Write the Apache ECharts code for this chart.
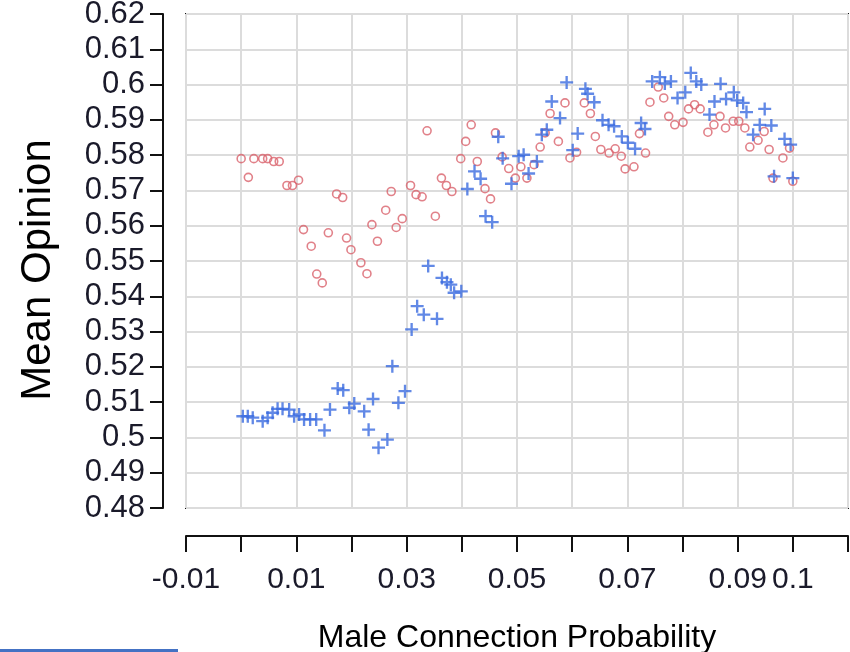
<!DOCTYPE html>
<html>
<head>
<meta charset="utf-8">
<script src="https://cdn.jsdelivr.net/npm/echarts@6.0.0/dist/echarts.min.js"></script>
<style>
html,body{margin:0;padding:0;background:#fff;}
#chart{width:850px;height:652px;}
</style>
</head>
<body>
<div id="chart"></div>
<script>
// ---- data ----
const redX = [0.0000,0.0013,0.0023,0.0039,0.0048,0.0059,0.0069,0.0083,0.0093,0.0104,0.0113,0.0127,0.0137,0.0147,0.0158,0.0173,0.0184,0.0191,0.0199,0.0217,0.0228,0.0237,0.0247,0.0262,0.0272,0.0281,0.0292,0.0307,0.0317,0.0328,0.0337,0.0352,0.0363,0.0372,0.0382,0.0398,0.0407,0.0417,0.0428,0.0442,0.0452,0.0461,0.0473,0.0485,0.0497,0.0507,0.0518,0.0531,0.0542,0.0551,0.0560,0.0575,0.0587,0.0596,0.0608,0.0622,0.0633,0.0642,0.0652,0.0667,0.0678,0.0689,0.0696,0.0712,0.0722,0.0733,0.0741,0.0756,0.0766,0.0775,0.0786,0.0801,0.0811,0.0822,0.0832,0.0846,0.0857,0.0868,0.0878,0.0892,0.0902,0.0913,0.0922,0.0937,0.0948,0.0957,0.0964,0.0982,0.0994,0.1000];
const redY = [0.5790,0.5737,0.5790,0.5790,0.5790,0.5782,0.5782,0.5714,0.5714,0.5729,0.5589,0.5542,0.5463,0.5438,0.5580,0.5690,0.5680,0.5565,0.5532,0.5495,0.5464,0.5603,0.5556,0.5644,0.5697,0.5595,0.5620,0.5714,0.5688,0.5682,0.5869,0.5627,0.5735,0.5714,0.5697,0.5790,0.5839,0.5886,0.5782,0.5705,0.5676,0.5863,0.5795,0.5762,0.5735,0.5767,0.5735,0.5773,0.5823,0.5863,0.5918,0.5839,0.5948,0.5792,0.5808,0.5948,0.5918,0.5853,0.5816,0.5806,0.5818,0.5797,0.5761,0.5767,0.5861,0.5806,0.5950,0.5993,0.5962,0.5910,0.5886,0.5893,0.5931,0.5943,0.5931,0.5865,0.5886,0.5910,0.5877,0.5896,0.5896,0.5877,0.5823,0.5842,0.5867,0.5816,0.5735,0.5792,0.5820,0.5726];
const blueX = [0.0003,0.0012,0.0021,0.0039,0.0048,0.0057,0.0066,0.0075,0.0087,0.0096,0.0105,0.0114,0.0125,0.0136,0.0151,0.0161,0.0175,0.0185,0.0196,0.0205,0.0223,0.0231,0.0239,0.0249,0.0265,0.0274,0.0285,0.0297,0.0309,0.0319,0.0331,0.0339,0.0355,0.0364,0.0373,0.0380,0.0386,0.0399,0.0410,0.0423,0.0434,0.0443,0.0455,0.0466,0.0474,0.0490,0.0503,0.0512,0.0521,0.0536,0.0545,0.0554,0.0563,0.0578,0.0590,0.0601,0.0610,0.0624,0.0628,0.0640,0.0655,0.0666,0.0676,0.0690,0.0701,0.0714,0.0725,0.0732,0.0745,0.0759,0.0768,0.0779,0.0791,0.0805,0.0815,0.0825,0.0834,0.0849,0.0858,0.0869,0.0879,0.0893,0.0899,0.0910,0.0916,0.0928,0.0940,0.0949,0.0961,0.0966,0.0985,0.0996,0.1000];
const blueY = [0.5060,0.5060,0.5056,0.5046,0.5056,0.5070,0.5081,0.5081,0.5079,0.5060,0.5065,0.5051,0.5051,0.5051,0.5020,0.5079,0.5139,0.5134,0.5084,0.5096,0.5074,0.5022,0.5109,0.4971,0.4994,0.5202,0.5098,0.5131,0.5306,0.5372,0.5348,0.5486,0.5336,0.5452,0.5440,0.5433,0.5410,0.5414,0.5704,0.5754,0.5733,0.5627,0.5610,0.5852,0.5791,0.5719,0.5797,0.5801,0.5748,0.5782,0.5858,0.5872,0.5952,0.5905,0.6006,0.5814,0.5861,0.5988,0.5974,0.5950,0.5899,0.5886,0.5882,0.5853,0.5835,0.5818,0.5891,0.5874,0.6009,0.6021,0.6003,0.6009,0.5962,0.5978,0.6033,0.6009,0.6000,0.5915,0.5952,0.6002,0.5959,0.5978,0.5955,0.5948,0.5922,0.5858,0.5886,0.5931,0.5884,0.5740,0.5846,0.5830,0.5735];

const xTickLabels = ['-0.01','','0.01','','0.03','','0.05','','0.07','','0.09','0.1',''];
const yTickLabels = ['0.48','0.49','0.5','0.51','0.52','0.53','0.54','0.55','0.56','0.57','0.58','0.59','0.6','0.61','0.62'];
const xTitle = 'Male Connection Probability';
const yTitle = 'Mean Opinion';

if (redX.length !== redY.length) throw new Error('red length mismatch ' + redX.length + ' ' + redY.length);
if (blueX.length !== blueY.length) throw new Error('blue length mismatch ' + blueX.length + ' ' + blueY.length);

const redData = redX.map((x, i) => [x, redY[i]]);
const blueData = blueX.map((x, i) => [x, blueY[i]]);

const FONT = "'Liberation Sans', Arial, sans-serif";
const plusPath = 'path://M41,0H59V41H100V59H59V100H41V59H0V41H41Z';

const chart = echarts.init(document.getElementById('chart'), null, {renderer: 'canvas'});
chart.setOption({
  animation: false,
  backgroundColor: '#ffffff',
  grid: {
    left: 186, top: 14, right: 2, bottom: 144,
    outerBoundsMode: 'none', containLabel: false,
    show: true, borderColor: '#111', borderWidth: 2, backgroundColor: 'transparent'
  },
  xAxis: {
    type: 'value', min: -0.01, max: 0.11, interval: 0.01,
    offset: 28,
    axisLine: {show: true, onZero: false, lineStyle: {color: '#111', width: 2}},
    axisTick: {show: true, length: 16, lineStyle: {color: '#111', width: 2}},
    axisLabel: {
      margin: 29, fontSize: 30, fontFamily: FONT, color: '#1a1a2a',
      showMinLabel: true, showMaxLabel: true, hideOverlap: false,
      formatter: function (v) { return xTickLabels[Math.round((v + 0.01) / 0.01)] || ''; }
    },
    splitLine: {show: true, lineStyle: {color: '#dcdcdc', width: 2}},
    name: xTitle, nameLocation: 'middle', nameGap: 86,
    nameTextStyle: {fontSize: 32, fontFamily: FONT, color: '#000'}
  },
  yAxis: {
    type: 'value', min: 0.48, max: 0.62, interval: 0.01,
    offset: 23,
    axisLine: {show: true, onZero: false, lineStyle: {color: '#111', width: 2}},
    axisTick: {show: true, length: 13, lineStyle: {color: '#111', width: 2}},
    axisLabel: {
      margin: 18, fontSize: 31, fontFamily: FONT, color: '#1a1a2a',
      showMinLabel: true, showMaxLabel: true, hideOverlap: false,
      formatter: function (v) { return yTickLabels[Math.round((v - 0.48) / 0.01)] || ''; }
    },
    splitLine: {show: true, lineStyle: {color: '#dcdcdc', width: 2}}
  },
  series: [
    {
      name: 'circles', type: 'scatter', data: redData,
      symbol: 'circle', symbolSize: 8,
      itemStyle: {color: 'rgba(0,0,0,0)', borderColor: '#d9626b', borderWidth: 1.6},
      emphasis: {disabled: true}, z: 3
    },
    {
      name: 'pluses', type: 'scatter', data: blueData,
      symbol: plusPath, symbolSize: 13,
      itemStyle: {color: '#3b6be0'},
      emphasis: {disabled: true}, z: 4
    }
  ],
  graphic: [
    {type: 'text', x: 38, y: 270, rotation: Math.PI / 2, silent: true,
     style: {text: yTitle, font: "42px 'Liberation Sans', Arial, sans-serif", fill: '#000', align: 'center', verticalAlign: 'middle'}},
    {type: 'rect', left: 0, top: 649, shape: {width: 178, height: 3}, style: {fill: '#4472c4'}, silent: true}
  ]
});
</script>
</body>
</html>
